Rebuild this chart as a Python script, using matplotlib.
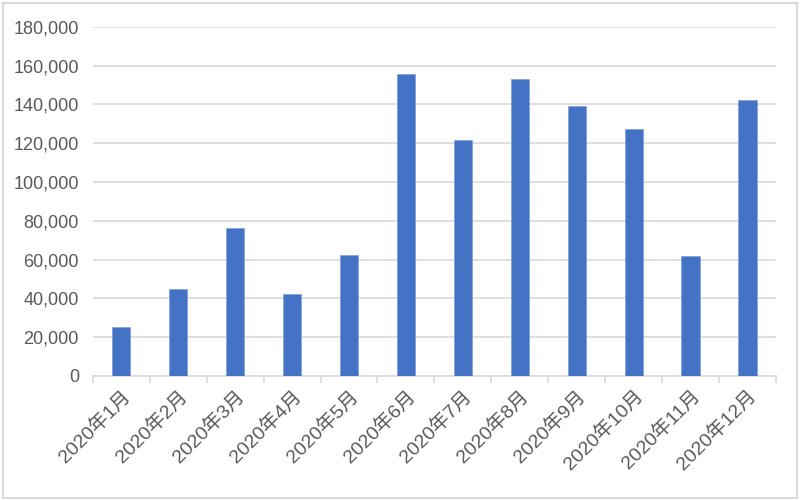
import numpy as np
import matplotlib
matplotlib.use("Agg")
import matplotlib.pyplot as plt
from matplotlib.patches import Rectangle
from matplotlib.ticker import FuncFormatter, MultipleLocator

plt.rcParams["font.family"] = ["Liberation Sans", "Noto Sans CJK SC", "DejaVu Sans"]

# Datos
months = ["2020年1月", "2020年2月", "2020年3月", "2020年4月", "2020年5月", "2020年6月",
          "2020年7月", "2020年8月", "2020年9月", "2020年10月", "2020年11月", "2020年12月"]
values = [25300, 45000, 76500, 42500, 62200, 155700,
          121700, 152900, 139200, 127200, 61700, 142300]

fig = plt.figure(figsize=(8, 5), dpi=100)
ax = fig.add_axes([0.116, 0.248, 0.854, 0.6986])

x = np.arange(len(months))
ax.bar(x, values, width=0.32, color="#4472C4", edgecolor="#7F9FD8", linewidth=0.5, zorder=3)

ax.set_xlim(-0.5, len(months) - 0.5)
ax.set_ylim(0, 180000)
ax.yaxis.set_major_locator(MultipleLocator(20000))
ax.yaxis.set_major_formatter(FuncFormatter(lambda v, p: f"{int(v):,}"))
ax.grid(axis="y", color="#D9D9D9", linewidth=1.2, zorder=0)

for s in ["top", "right", "left"]:
    ax.spines[s].set_visible(False)
ax.spines["bottom"].set_color("#D9D9D9")
ax.spines["bottom"].set_linewidth(1.2)

ax.set_xticks(x)
ax.set_xticklabels(months, rotation=45, ha="right", rotation_mode="anchor")
ax.set_xticks(np.arange(-0.5, len(months)), minor=True)
ax.tick_params(axis="x", which="major", length=0, pad=8, labelsize=14, labelcolor="#595959")
ax.tick_params(axis="x", which="minor", length=5, color="#D9D9D9", width=1.2)
ax.tick_params(axis="y", length=0, pad=10, labelsize=13, labelcolor="#595959")

# Borde del gráfico
fig.patches.append(Rectangle((0.004, 0.005), 0.992, 0.99, transform=fig.transFigure,
                             fill=False, edgecolor="#D9D9D9", linewidth=1.5))

fig.savefig("out.png", dpi=100)
